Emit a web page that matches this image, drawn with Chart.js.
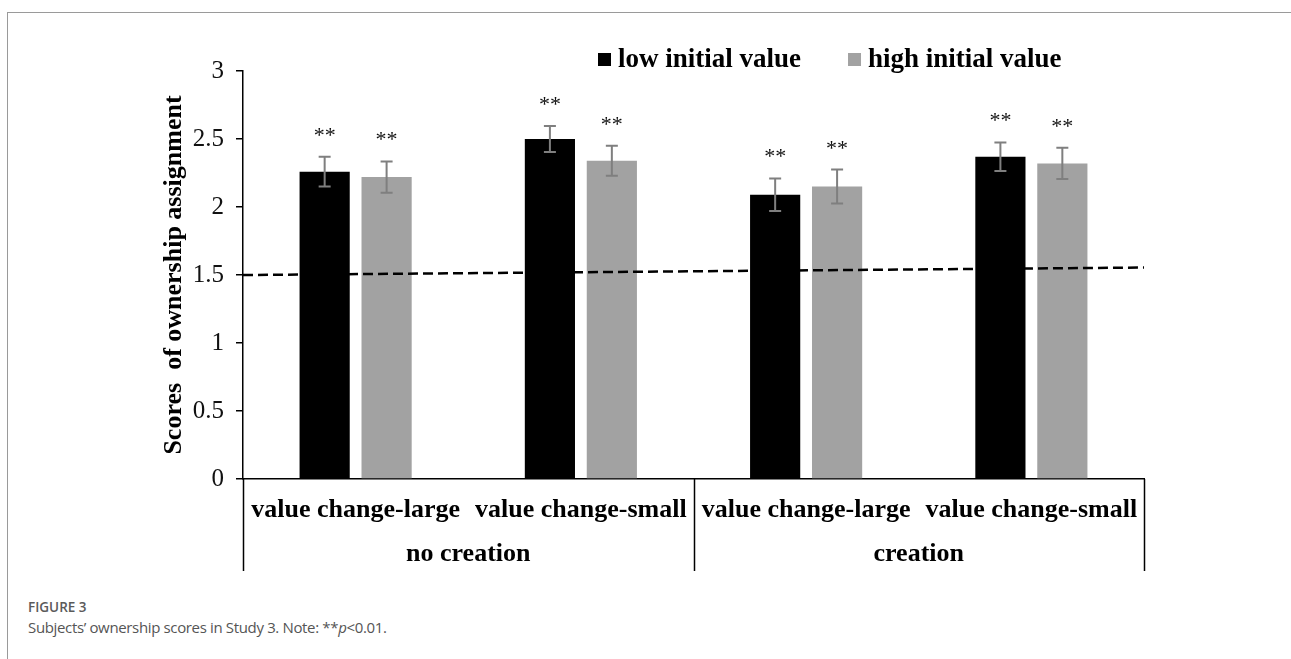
<!DOCTYPE html>
<html>
<head>
<meta charset="utf-8">
<title>Ownership scores</title>
<script src="https://cdn.jsdelivr.net/npm/chart.js@4.4.1/dist/chart.umd.min.js"></script>
<style>
  html, body { margin: 0; padding: 0; background: #fff; }
  body { width: 1291px; height: 659px; position: relative; overflow: hidden; }
  .frame { position: absolute; left: 7px; top: 12px; right: -2px; bottom: -2px;
           border-top: 1px solid #9a9a9a; border-left: 1px solid #9a9a9a; }
  #chart { position: absolute; left: 0; top: 0; }
  .fig-label { position: absolute; left: 28px; top: 598px; font-family: "Open Sans", sans-serif;
               font-size: 13.5px; font-weight: 600; color: #5a5a5a; }
  .fig-caption { position: absolute; left: 28px; top: 617px; font-family: "Open Sans", sans-serif;
                 font-size: 15px; letter-spacing: -0.35px; color: #555; }
</style>
</head>
<body>
<div class="frame"></div>
<canvas id="chart" width="1291" height="580"></canvas>
<div class="fig-label">FIGURE 3</div>
<div class="fig-caption">Subjects’ ownership scores in Study 3. Note: **<i>p</i>&lt;0.01.</div>
<script>
const categories = ['value change-large', 'value change-small', 'value change-large', 'value change-small'];
const groups = ['no creation', 'creation'];
const seriesNames = ['low initial value', 'high initial value'];
const lowValues = [2.26, 2.50, 2.09, 2.37];
const highValues = [2.22, 2.34, 2.15, 2.32];
const lowErrors = [0.11, 0.095, 0.12, 0.105];
const highErrors = [0.115, 0.11, 0.125, 0.115];
const lowMarks = ['**', '**', '**', '**'];
const highMarks = ['**', '**', '**', '**'];
// dashed reference line: value at the left and right end of the axis
const baselineValues = [1.5, 1.555];

const serif = '"Liberation Serif", "Times New Roman", serif';

// dashed reference line across the plot, drawn over the bars
const baseline = {
  id: 'baseline',
  afterDatasetsDraw(chart) {
    const { ctx, chartArea } = chart;
    const y = chart.scales.y;
    const n = baselineValues.length - 1;
    ctx.save();
    ctx.beginPath();
    ctx.rect(chartArea.left, chartArea.top, chartArea.right - chartArea.left, chartArea.bottom - chartArea.top);
    ctx.clip();
    ctx.strokeStyle = '#000';
    ctx.lineWidth = 2.5;
    ctx.setLineDash([10, 5]);
    ctx.beginPath();
    baselineValues.forEach((v, i) => {
      const px = chartArea.left + (chartArea.right - chartArea.left) * i / n;
      if (i === 0) ctx.moveTo(px, y.getPixelForValue(v));
      else ctx.lineTo(px, y.getPixelForValue(v));
    });
    ctx.stroke();
    ctx.restore();
  }
};

// error bars with the significance stars above them
const errorBars = {
  id: 'errorBars',
  afterDatasetsDraw(chart) {
    const { ctx } = chart;
    const y = chart.scales.y;
    chart.data.datasets.forEach((ds, di) => {
      if (!ds.errors) return;
      const meta = chart.getDatasetMeta(di);
      meta.data.forEach((bar, i) => {
        const top = y.getPixelForValue(ds.data[i] + ds.errors[i]);
        const bot = y.getPixelForValue(ds.data[i] - ds.errors[i]);
        ctx.save();
        ctx.strokeStyle = '#7f7f7f';
        ctx.lineWidth = 2;
        ctx.beginPath();
        ctx.moveTo(bar.x, top); ctx.lineTo(bar.x, bot);
        ctx.moveTo(bar.x - 6, top); ctx.lineTo(bar.x + 6, top);
        ctx.moveTo(bar.x - 6, bot); ctx.lineTo(bar.x + 6, bot);
        ctx.stroke();
        ctx.fillStyle = '#111';
        ctx.font = '22px ' + serif;
        ctx.textAlign = 'center';
        ctx.textBaseline = 'alphabetic';
        ctx.fillText(ds.marks[i], bar.x, top - 15);
        ctx.restore();
      });
    });
  }
};

// second level of the category axis: group names and the dividers between them
const groupAxis = {
  id: 'groupAxis',
  afterDraw(chart) {
    const { ctx, chartArea } = chart;
    const x = chart.scales.x;
    const per = categories.length / groups.length;
    const edges = [];
    for (let k = 0; k <= groups.length; k++) {
      if (k === 0) edges.push(x.left);
      else if (k === groups.length) edges.push(x.right);
      else edges.push((x.getPixelForValue(k * per - 1) + x.getPixelForValue(k * per)) / 2);
    }
    ctx.save();
    ctx.strokeStyle = '#000';
    ctx.lineWidth = 1.5;
    ctx.beginPath();
    edges.forEach(e => {
      const px = Math.round(e) + 0.5;
      ctx.moveTo(px, chartArea.bottom);
      ctx.lineTo(px, x.bottom - 9);
    });
    ctx.stroke();
    ctx.fillStyle = '#000';
    ctx.font = 'bold 26px ' + serif;
    ctx.textAlign = 'center';
    ctx.textBaseline = 'middle';
    groups.forEach((g, k) => {
      const cx = (x.getPixelForValue(k * per) + x.getPixelForValue((k + 1) * per - 1)) / 2;
      ctx.fillText(g, cx, chartArea.bottom + 75);
    });
    ctx.restore();
  }
};

// legend inside the top of the plot
const topLegend = {
  id: 'topLegend',
  afterDraw(chart) {
    const { ctx, chartArea } = chart;
    const cy = chartArea.top - 12;
    let x = chartArea.left + 355;
    ctx.save();
    ctx.font = 'bold 27px ' + serif;
    ctx.textBaseline = 'middle';
    ctx.textAlign = 'left';
    chart.data.datasets.forEach(ds => {
      ctx.fillStyle = ds.backgroundColor;
      ctx.fillRect(x, cy - 6, 13, 13);
      ctx.fillStyle = '#000';
      ctx.fillText(ds.label, x + 20, cy + 1);
      x += 20 + ctx.measureText(ds.label).width + 47;
    });
    ctx.restore();
  }
};

new Chart(document.getElementById('chart'), {
  type: 'bar',
  data: {
    labels: categories,
    datasets: [
      {
        label: seriesNames[0],
        data: lowValues,
        errors: lowErrors,
        marks: lowMarks,
        backgroundColor: '#000',
        barPercentage: 0.81,
        categoryPercentage: 0.55
      },
      {
        label: seriesNames[1],
        data: highValues,
        errors: highErrors,
        marks: highMarks,
        backgroundColor: '#a2a2a2',
        barPercentage: 0.81,
        categoryPercentage: 0.55
      }
    ]
  },
  options: {
    responsive: false,
    animation: false,
    events: [],
    layout: { padding: { left: 150, right: 147, top: 71, bottom: 0 } },
    plugins: {
      legend: { display: false },
      tooltip: { enabled: false }
    },
    scales: {
      y: {
        min: 0,
        max: 3,
        ticks: { stepSize: 0.5, color: '#111', padding: 12, font: { family: serif, size: 25 },
                 callback: v => String(v) },
        grid: { display: true, drawOnChartArea: false, drawTicks: true, tickLength: 7, color: '#000', lineWidth: 1.5 },
        border: { display: true, color: '#000', width: 1.5 },
        title: {
          display: true,
          text: 'Scores  of ownership assignment',
          color: '#000',
          font: { family: serif, size: 26, weight: 'bold' },
          padding: { top: 9, bottom: 0 }
        },
        afterFit(s) { s.width = 93; }
      },
      x: {
        grid: { display: false, drawTicks: false },
        border: { display: true, color: '#000', width: 1.5 },
        ticks: { color: '#000', padding: 16, maxRotation: 0, autoSkip: false,
                 font: { family: serif, size: 26, weight: 'bold' } },
        afterFit(s) { s.height = 101; }
      }
    }
  },
  plugins: [baseline, errorBars, groupAxis, topLegend]
});
</script>
</body>
</html>
